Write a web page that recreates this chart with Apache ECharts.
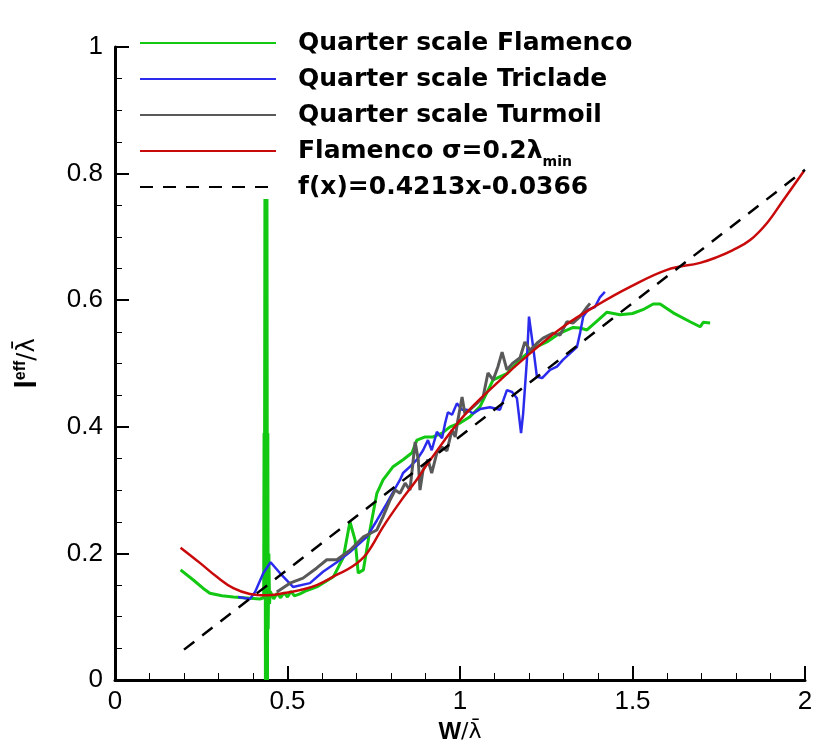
<!DOCTYPE html>
<html>
<head>
<meta charset="utf-8">
<script src="https://cdn.jsdelivr.net/npm/echarts@6/dist/echarts.min.js"></script>
<style>
  html, body { margin: 0; padding: 0; background: #fff; }
  #chart { width: 838px; height: 755px; }
</style>
</head>
<body>
<div id="chart"></div>
<script>
// 曲线数据 (x = W/λ, y = l_eff/λ)
const names = ['Quarter scale Flamenco', 'Quarter scale Triclade', 'Quarter scale Turmoil', 'Flamenco sigma', 'f(x)=0.4213x-0.0366'];

const flamencoQS = [
  [0.19, 0.174], [0.227, 0.158], [0.255, 0.145], [0.275, 0.137], [0.31, 0.133], [0.343, 0.131],
  [0.391, 0.129], [0.42, 0.128], [0.431, 0.13], [0.432, 0.39], [0.433, 0.13],
  [0.4345, 0.76], [0.436, 0.0], [0.4375, 0.76], [0.439, 0.0], [0.4405, 0.76], [0.442, 0.0],
  [0.443, 0.39], [0.444, 0.08], [0.446, 0.2], [0.448, 0.12], [0.45, 0.14],
  [0.46, 0.128], [0.47, 0.137], [0.48, 0.13], [0.49, 0.138], [0.5, 0.131], [0.51, 0.14],
  [0.52, 0.133], [0.536, 0.136], [0.55, 0.14], [0.585, 0.147], [0.633, 0.163], [0.662, 0.194],
  [0.681, 0.25], [0.696, 0.221], [0.705, 0.169], [0.72, 0.174], [0.739, 0.237], [0.759, 0.295],
  [0.777, 0.316], [0.806, 0.337], [0.835, 0.348], [0.861, 0.359], [0.875, 0.379], [0.899, 0.384],
  [0.922, 0.384], [0.948, 0.39], [0.971, 0.4], [1.0, 0.406], [1.029, 0.416], [1.058, 0.432],
  [1.096, 0.474], [1.136, 0.484], [1.174, 0.506], [1.212, 0.524], [1.252, 0.534], [1.29, 0.548],
  [1.328, 0.557], [1.348, 0.556], [1.368, 0.553], [1.397, 0.567], [1.426, 0.581], [1.464, 0.577],
  [1.5, 0.579], [1.53, 0.585], [1.56, 0.594], [1.58, 0.594], [1.618, 0.58], [1.667, 0.566],
  [1.696, 0.558], [1.705, 0.565], [1.725, 0.564]
];

const tricladeQS = [
  [0.357, 0.131], [0.391, 0.128], [0.406, 0.139], [0.43, 0.169], [0.451, 0.186], [0.478, 0.169],
  [0.516, 0.147], [0.565, 0.153], [0.603, 0.171], [0.643, 0.186], [0.681, 0.202], [0.73, 0.226],
  [0.759, 0.252], [0.788, 0.279], [0.806, 0.297], [0.826, 0.316], [0.835, 0.327], [0.855, 0.337],
  [0.875, 0.348], [0.893, 0.363], [0.907, 0.379], [0.918, 0.363], [0.933, 0.392], [0.948, 0.382],
  [0.957, 0.406], [0.965, 0.423], [0.977, 0.419], [0.991, 0.437], [1.006, 0.427], [1.02, 0.427],
  [1.038, 0.421], [1.058, 0.428], [1.087, 0.431], [1.116, 0.427], [1.136, 0.458], [1.151, 0.455],
  [1.165, 0.445], [1.177, 0.39], [1.183, 0.421], [1.194, 0.506], [1.2, 0.574], [1.212, 0.526],
  [1.223, 0.479], [1.238, 0.477], [1.261, 0.49], [1.281, 0.495], [1.299, 0.506], [1.319, 0.516],
  [1.339, 0.526], [1.348, 0.548], [1.357, 0.574], [1.371, 0.585], [1.391, 0.589], [1.406, 0.605],
  [1.42, 0.613]
];

const turmoilQS = [
  [0.469, 0.139], [0.507, 0.153], [0.545, 0.161], [0.585, 0.177], [0.614, 0.19], [0.643, 0.19],
  [0.681, 0.205], [0.72, 0.226], [0.759, 0.237], [0.777, 0.258], [0.797, 0.284], [0.812, 0.3],
  [0.826, 0.295], [0.841, 0.311], [0.855, 0.3], [0.87, 0.376], [0.879, 0.348], [0.884, 0.3],
  [0.893, 0.332], [0.907, 0.348], [0.918, 0.327], [0.933, 0.359], [0.948, 0.368], [0.962, 0.362],
  [0.977, 0.395], [0.986, 0.384], [0.994, 0.411], [1.006, 0.447], [1.014, 0.421], [1.029, 0.427],
  [1.049, 0.437], [1.067, 0.447], [1.081, 0.485], [1.096, 0.474], [1.11, 0.495], [1.122, 0.518],
  [1.136, 0.49], [1.154, 0.501], [1.174, 0.509], [1.188, 0.534], [1.203, 0.521], [1.223, 0.532],
  [1.241, 0.54], [1.27, 0.548], [1.29, 0.545], [1.31, 0.566], [1.328, 0.564], [1.348, 0.574],
  [1.368, 0.589], [1.377, 0.595]
];

const flamencoSigma = [
  [0.19, 0.209], [0.246, 0.185], [0.295, 0.163], [0.343, 0.145], [0.391, 0.136], [0.44, 0.134],
  [0.488, 0.137], [0.536, 0.142], [0.585, 0.15], [0.642, 0.166], [0.69, 0.18], [0.73, 0.2],
  [0.777, 0.242], [0.826, 0.281], [0.874, 0.316], [0.913, 0.347], [1.009, 0.416], [1.107, 0.469],
  [1.203, 0.516], [1.299, 0.558], [1.397, 0.592], [1.493, 0.621], [1.6, 0.648], [1.696, 0.659],
  [1.745, 0.668], [1.791, 0.679], [1.841, 0.695], [1.89, 0.722], [1.937, 0.758], [1.997, 0.804]
];

const fitLine = [[0.2, 0.048], [2.0, 0.806]];

const xTicks = [0, 0.5, 1, 1.5, 2];
const yTicks = [0, 0.2, 0.4, 0.6, 0.8, 1];

const chart = echarts.init(document.getElementById('chart'));

function lineSeries(name, data, color, width, type, smooth) {
  return {
    name: name, type: 'line', data: data, symbol: 'none', smooth: smooth || false,
    lineStyle: { color: color, width: width, type: type || 'solid' },
    itemStyle: { color: color },
    emphasis: { disabled: true }
  };
}

const tickFont = { fontFamily: 'Liberation Sans', fontSize: 26, color: '#000' };

chart.setOption({
  animation: false,
  grid: { left: 115, right: 33, top: 47, bottom: 75, containLabel: false },
  legend: {
    orient: 'vertical', left: 139, top: 25, padding: 0, itemGap: 0,
    itemWidth: 136, itemHeight: 4, itemStyle: { opacity: 0 },
    data: names,
    textStyle: {
      fontFamily: 'DejaVu Sans', fontWeight: 'bold', fontSize: 25, color: '#000', lineHeight: 36,
      padding: [0, 0, 0, 17],
      rich: {
        b: { fontFamily: 'DejaVu Sans', fontWeight: 'bold', fontSize: 25, lineHeight: 36 },
        sub: { fontFamily: 'DejaVu Sans', fontWeight: 'bold', fontSize: 14, lineHeight: 20, verticalAlign: 'bottom' }
      }
    },
    formatter: function (n) {
      if (n === 'Flamenco sigma') return '{b|Flamenco σ=0.2λ}{sub|min}';
      return n;
    }
  },
  xAxis: {
    type: 'value', min: 0, max: 2, interval: 0.5,
    name: '{w|W}{n|/λ̄}', nameLocation: 'middle', nameGap: 38,
    nameTextStyle: {
      rich: {
        w: { fontFamily: 'Liberation Sans', fontWeight: 'bold', fontSize: 24, color: '#000' },
        n: { fontFamily: 'DejaVu Sans', fontSize: 22, color: '#000' }
      }
    },
    axisLine: { show: true, onZero: false, lineStyle: { color: '#000', width: 3 } },
    axisTick: { inside: true, length: 14, lineStyle: { color: '#000', width: 2 } },
    minorTick: { show: true, splitNumber: 5, length: 7, lineStyle: { color: '#000', width: 1 } },
    splitLine: { show: false },
    axisLabel: Object.assign({ margin: 9, formatter: v => xTicks.includes(v) ? String(v) : '' }, tickFont)
  },
  yAxis: {
    type: 'value', min: 0, max: 1, interval: 0.2,
    name: '{b|l}{sup|eff}{n|/λ̄}', nameLocation: 'middle', nameGap: 72, nameRotate: 90,
    nameTextStyle: {
      rich: {
        b: { fontFamily: 'Liberation Sans', fontWeight: 'bold', fontSize: 30, color: '#000', lineHeight: 30 },
        sup: { fontFamily: 'Liberation Sans', fontWeight: 'bold', fontSize: 16, color: '#000', lineHeight: 18, verticalAlign: 'top' },
        n: { fontFamily: 'DejaVu Sans', fontSize: 24, color: '#000', lineHeight: 30 }
      }
    },
    axisLine: { show: true, onZero: false, lineStyle: { color: '#000', width: 3 } },
    axisTick: { inside: true, length: 14, lineStyle: { color: '#000', width: 2 } },
    minorTick: { show: true, splitNumber: 4, length: 7, lineStyle: { color: '#000', width: 1 } },
    splitLine: { show: false },
    axisLabel: Object.assign({ margin: 12, formatter: v => {
      const t = yTicks.find(k => Math.abs(k - v) < 1e-9);
      return t === undefined ? '' : String(t);
    } }, tickFont)
  },
  series: [
    lineSeries(names[0], flamencoQS, '#12c812', 3),
    lineSeries(names[1], tricladeQS, '#2b2bee', 2.5),
    lineSeries(names[2], turmoilQS, '#595959', 3),
    lineSeries(names[3], flamencoSigma, '#c80a0a', 2.5, 'solid', 0.4),
    lineSeries(names[4], fitLine, '#000', 2.5, [13, 10])
  ]
});
</script>
</body>
</html>
